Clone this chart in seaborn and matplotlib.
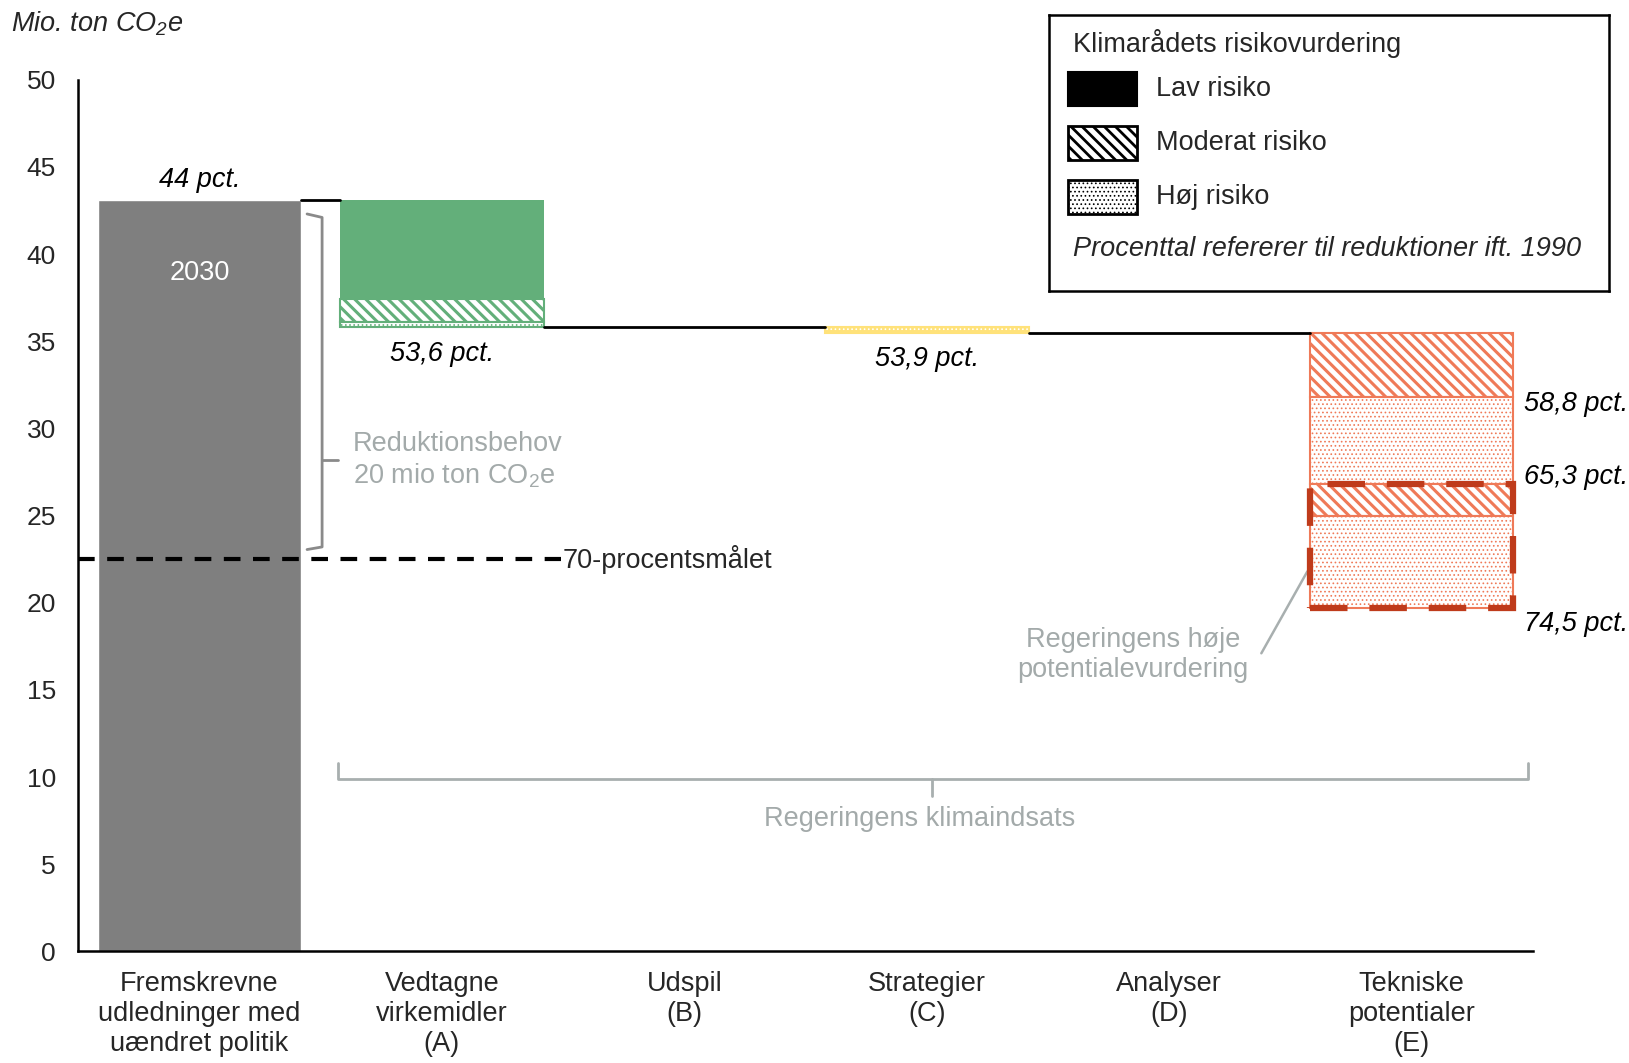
import matplotlib
matplotlib.use("Agg")
import matplotlib.pyplot as plt
from matplotlib.patches import Rectangle
import seaborn as sns
import pandas as pd

# --- data (Mio. ton CO2e) ---
categories = ["Fremskrevne\nudledninger med\nuændret politik", "Vedtagne\nvirkemidler\n(A)",
              "Udspil\n(B)", "Strategier\n(C)", "Analyser\n(D)", "Tekniske\npotentialer\n(E)"]
projected_2030 = 43.1
target_70 = 22.5

# reductions per category, in stacking order (top -> down)
seg_cat = [1, 1, 1, 3, 5, 5, 5, 5]
seg_size = [5.7, 1.3, 0.3, 0.3, 3.7, 5.0, 1.8, 5.3]
seg_risk = ["lav", "moderat", "høj", "høj", "moderat", "høj", "moderat", "høj"]
seg_color = ["#63AF7A", "#63AF7A", "#63AF7A", "#FFE27A", "#EF7A58", "#EF7A58", "#EF7A58", "#EF7A58"]

pct_labels = ["44 pct.", "53,6 pct.", "53,9 pct.", "58,8 pct.", "65,3 pct.", "74,5 pct."]

GRAY_TXT = "#A3AAAA"
BAR_W = 0.84
FS = 19.5
DIAG = "\\\\\\"
DOTS = "...."
DOT_LW = 0.7


def hatched(patches, lw):
    for p in patches:
        if hasattr(p, "set_hatch_linewidth"):
            p.set_hatch_linewidth(lw)


sns.set_theme(style="white")
plt.rcParams["font.family"] = ["Liberation Sans", "DejaVu Sans"]
plt.rcParams["mathtext.default"] = "regular"
plt.rcParams["hatch.linewidth"] = 2.2

fig = plt.figure(figsize=(16.29, 10.63), dpi=100)
ax = fig.add_axes([0.048, 0.105, 0.893, 0.82])

sns.barplot(x=[categories[0]], y=[projected_2030], order=categories, color="#7F7F7F",
            saturation=1, width=BAR_W, ax=ax)

# floating waterfall segments
segs = pd.DataFrame({"cat": seg_cat, "size": seg_size, "risk": seg_risk, "color": seg_color})
level = projected_2030
tops = []
for _, r in segs.iterrows():
    bottom = level - r["size"]
    tops.append(level)
    if r["risk"] == "lav":
        ax.bar(r["cat"], r["size"], bottom=bottom, width=BAR_W, color=r["color"], linewidth=0)
    else:
        is_diag = r["risk"] == "moderat"
        hatch = DIAG if is_diag else DOTS
        hlw = 2.2 if is_diag else DOT_LW
        face = "white" if r["cat"] != 3 else r["color"]
        hcol = r["color"] if r["cat"] != 3 else "white"
        ax.bar(r["cat"], r["size"], bottom=bottom, width=BAR_W, color=face, linewidth=0)
        with plt.rc_context({"hatch.linewidth": hlw}):
            bc = ax.bar(r["cat"], r["size"], bottom=bottom, width=BAR_W, facecolor="none",
                        edgecolor=hcol, hatch=hatch, linewidth=0)
        hatched(bc, hlw)
        ax.bar(r["cat"], r["size"], bottom=bottom, width=BAR_W, facecolor="none",
               edgecolor=r["color"], linewidth=1.5)
    level = bottom
segs["top"] = tops
segs["bottom"] = segs["top"] - segs["size"]

# connector lines
end_A = segs[segs.cat == 1].bottom.min()
end_C = segs[segs.cat == 3].bottom.min()
ax.plot([0 + BAR_W / 2, 1 - BAR_W / 2], [projected_2030] * 2, color="black", lw=2)
ax.plot([1 + BAR_W / 2, 3 - BAR_W / 2], [end_A] * 2, color="black", lw=2)
ax.plot([3 + BAR_W / 2, 5 - BAR_W / 2], [end_C] * 2, color="black", lw=2)

# government high estimate box
e = segs[segs.cat == 5]
hi_top = e.top.iloc[2]
hi_bot = e.bottom.iloc[3]
ax.add_patch(Rectangle((5 - BAR_W / 2, hi_bot), BAR_W, hi_top - hi_bot, fill=False,
                       edgecolor="#BF3B1B", lw=4.5, ls=(0, (6, 3.5)), zorder=5))

# 70 pct target
ax.plot([-0.5, 1.49], [target_70] * 2, color="black", lw=3, ls=(0, (4, 3)), clip_on=False)
ax.text(1.5, target_70, "70-procentsmålet", fontsize=FS, va="center", ha="left")

# text labels
it = dict(fontsize=FS, style="italic", color="black")
ax.text(0, projected_2030 + 0.4, pct_labels[0], ha="center", va="bottom", **it)
ax.text(0, 38.9, "2030", ha="center", va="center", fontsize=FS, color="white")
ax.text(1, end_A - 0.8, pct_labels[1], ha="center", va="top", **it)
ax.text(3, end_C - 0.8, pct_labels[2], ha="center", va="top", **it)
ax.text(5.465, e.bottom.iloc[0] - 0.4, pct_labels[3], ha="left", va="center", clip_on=False, **it)
ax.text(5.465, e.bottom.iloc[1] + 0.4, pct_labels[4], ha="left", va="center", clip_on=False, **it)
ax.text(5.465, e.bottom.iloc[3] - 0.9, pct_labels[5], ha="left", va="center", clip_on=False, **it)

# reduction need brace
bx = 0.506
ax.plot([0.444, bx, bx, 0.444], [42.3, 42.1, 23.2, 23.05], color="#8A8A8A", lw=2)
ax.plot([bx, 0.57], [28.2, 28.2], color="#8A8A8A", lw=2)
ax.text(0.634, 29.1, "Reduktionsbehov", fontsize=FS, color=GRAY_TXT, va="center")
ax.text(0.634, 27.3, "20 mio ton CO$_2$e", fontsize=FS, color=GRAY_TXT, va="center")

# bottom brace
ax.plot([0.57, 0.57, 5.48, 5.48], [10.8, 9.9, 9.9, 10.8], color="#A8AFAF", lw=2)
ax.plot([3.02, 3.02], [9.9, 8.9], color="#A8AFAF", lw=2)
ax.text(2.97, 7.6, "Regeringens klimaindsats", fontsize=FS, color=GRAY_TXT, ha="center", va="center")

# high estimate note
ax.plot([4.38, 4.57], [17.1, 21.8], color="#A8AFAF", lw=1.8)
ax.text(3.85, 17.0, "Regeringens høje\npotentialevurdering", fontsize=FS, color=GRAY_TXT,
        ha="center", va="center", linespacing=1.2)

# axes styling
ax.set_ylim(0, 50)
ax.set_xlim(-0.5, 5.5)
ax.set_yticks(range(0, 51, 5))
ax.set_xlabel("")
ax.set_ylabel("")
for s in ["top", "right"]:
    ax.spines[s].set_visible(False)
for s in ["left", "bottom"]:
    ax.spines[s].set_color("black")
    ax.spines[s].set_linewidth(1.8)
ax.tick_params(axis="y", labelsize=19, length=0, pad=16)
ax.tick_params(axis="x", labelsize=FS, length=0, pad=14)
for lbl in ax.get_xticklabels():
    lbl.set_linespacing(1.2)

fig.text(0.007, 0.978, "Mio. ton CO$_2$e", fontsize=FS, style="italic", va="center")

# legend box
lax = fig.add_axes([0.644, 0.726, 0.344, 0.26])
lax.set_xlim(0, 1)
lax.set_ylim(0, 1)
lax.set_xticks([])
lax.set_yticks([])
for s in lax.spines.values():
    s.set_color("black")
    s.set_linewidth(1.8)
lax.text(0.043, 0.895, "Klimarådets risikovurdering", fontsize=FS, va="center")
for y, name, hatch in [(0.732, "Lav risiko", None), (0.536, "Moderat risiko", DIAG),
                       (0.341, "Høj risiko", DOTS)]:
    if hatch is None:
        lax.add_patch(Rectangle((0.034, y - 0.062), 0.123, 0.124, facecolor="black",
                                edgecolor="black", lw=1.5))
    else:
        hlw = 2.0 if hatch == DIAG else DOT_LW
        with plt.rc_context({"hatch.linewidth": hlw}):
            sw = Rectangle((0.034, y - 0.062), 0.123, 0.124, facecolor="white",
                           edgecolor="black", hatch=hatch, lw=2)
        hatched([sw], hlw)
        lax.add_patch(sw)
    lax.text(0.191, y, name, fontsize=FS, va="center")
lax.text(0.043, 0.152, "Procenttal refererer til reduktioner ift. 1990", fontsize=FS,
         style="italic", va="center")

fig.savefig("out.png", dpi=100)
